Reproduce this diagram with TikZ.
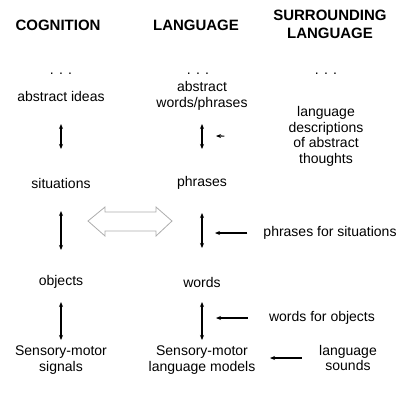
\documentclass[tikz,border=0pt]{standalone}
\usepackage{fontspec}
\setmainfont{Liberation Sans}
\usetikzlibrary{arrows.meta}

\begin{document}
\begin{tikzpicture}[x=1pt,y=-1pt,>={Stealth[length=5pt,width=4pt]},
  every node/.style={font=\fontsize{14}{15.5}\selectfont,align=center,inner sep=1pt},
  head/.style={font=\fontsize{15}{18}\selectfont\bfseries},
  link/.style={<->,line width=1.1pt},
  feed/.style={->,line width=1.1pt},
  hollow/.style={draw=gray!65,line width=.8pt}]
  \useasboundingbox (0,0) rectangle (402,392);
  % column headers
  \node[head] (cog) at (58,25) {COGNITION};
  \node[head] (lang) at (196,25) {LANGUAGE};
  \node[head] (surr) at (330,24) {SURROUNDING\\LANGUAGE};
  % cognition column
  \node (dots1) at (61,74) {. . .};
  \node (ideas) at (61,96) {abstract ideas};
  \node (sit) at (61,183) {situations};
  \node (obj) at (61,282) {objects};
  \node (sens) at (61,360) {Sensory-motor\\signals};
  % language column
  \node (dots2) at (198,74) {. . .};
  \node (absw) at (202,96) {abstract\\words/phrases};
  \node (phr) at (202,183) {phrases};
  \node (wrd) at (202,282) {words};
  \node (model) at (202,360) {Sensory-motor\\language models};
  % surrounding language column
  \node (dots3) at (326,74) {. . .};
  \node (desc) at (326,136.5) {language\\descriptions\\of abstract\\thoughts};
  \node (forsit) at (330,233) {phrases for situations};
  \node (forobj) at (322,318) {words for objects};
  \node (sound) at (348,358) {language\\sounds};
  \coordinate (p1) at (216,136);
  \coordinate (p2) at (215,233);
  \coordinate (p3) at (216,318);
  \coordinate (p4) at (270,358);
  % vertical links
  \draw[link,shorten <=28pt,shorten >=34pt] (ideas.center) -- (sit.center);
  \draw[link,shorten <=28pt,shorten >=32pt] (sit.center) -- (obj.center);
  \draw[link,shorten <=20pt,shorten >=20pt] (obj.center) -- (sens.center);
  \draw[link,shorten <=28pt,shorten >=34pt] (absw.center) -- (phr.center);
  \draw[link,shorten <=30pt,shorten >=34pt] (phr.center) -- (wrd.center);
  \draw[link,shorten <=20pt,shorten >=20pt] (wrd.center) -- (model.center);
  % input from surrounding language
  \draw[feed,shorten <=63pt] (desc.west) -- (p1);
  \draw[feed,shorten <=15pt] (forsit.west) -- (p2);
  \draw[feed,shorten <=20pt] (forobj.west) -- (p3);
  \draw[feed,shorten <=16pt] (sound.west) -- (p4);
  % cognition <-> language
  \draw[hollow] (88,221) -- (105,207) -- (105,212) -- (156,212) -- (156,207)
    -- (172,221) -- (156,236) -- (156,231) -- (105,231) -- (105,236) -- cycle;
\end{tikzpicture}
\end{document}
